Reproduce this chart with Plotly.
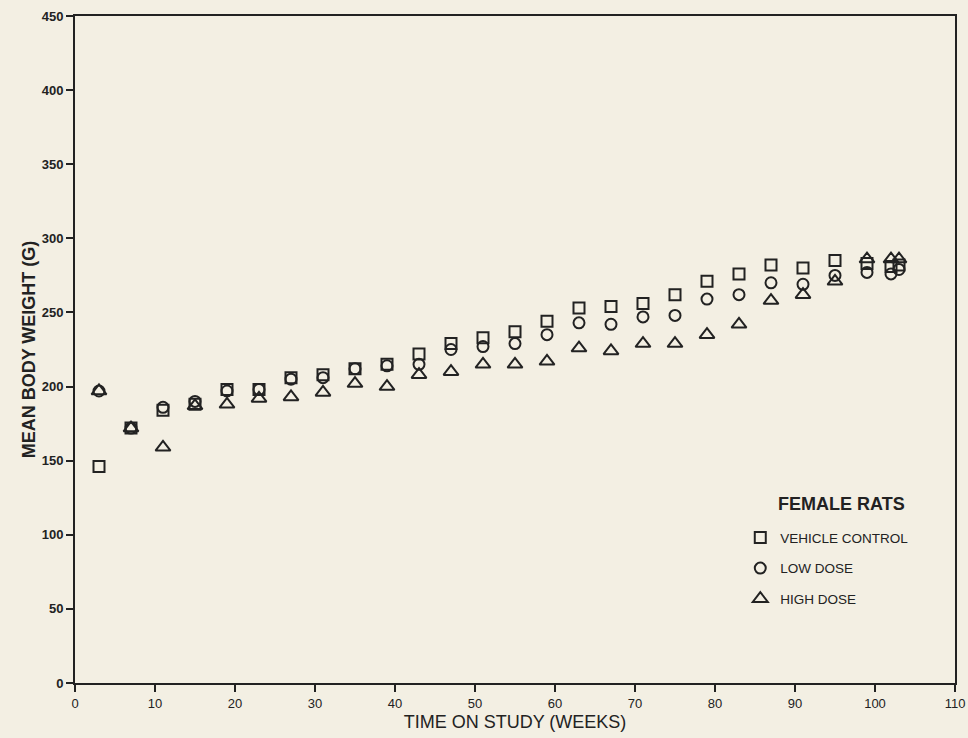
import plotly.graph_objects as go

weeks = [3, 7, 11, 15, 19, 23, 27, 31, 35, 39, 43, 47, 51, 55, 59, 63, 67, 71, 75, 79, 83, 87, 91, 95, 99, 102, 103]
vehicle_control = [146, 172, 184, 188, 198, 198, 206, 208, 212, 215, 222, 229, 233, 237, 244, 253, 254, 256, 262, 271, 276, 282, 280, 285, 283, 281, 282]
low_dose = [197, 172, 186, 190, 197, 198, 205, 206, 212, 214, 215, 225, 227, 229, 235, 243, 242, 247, 248, 259, 262, 270, 269, 275, 277, 276, 279]
high_dose = [197, 172, 159, 187, 188, 192, 193, 196, 202, 200, 208, 210, 215, 215, 217, 226, 224, 229, 229, 235, 242, 258, 262, 271, 286, 286, 286]

series = [
    ("VEHICLE CONTROL", vehicle_control, "square-open", 11),
    ("LOW DOSE", low_dose, "circle-open", 11),
    ("HIGH DOSE", high_dose, "triangle-up-open", 13),
]
legend_title = "FEMALE RATS"

x_ticks = list(range(0, 111, 10))
y_ticks = list(range(0, 451, 50))

INK = "#222222"
BG = "#f3efe3"
FONT = "Liberation Sans, Arial, sans-serif"

fig = go.Figure()
for i, (name, vals, sym, sz) in enumerate(series):
    fig.add_trace(go.Scatter(
        x=weeks, y=vals, mode="markers", name=name, legendgroup=f"g{i}",
        marker=dict(symbol=sym, size=sz, color=INK, line=dict(color=INK, width=2)),
    ))

fig.update_layout(
    width=968, height=738,
    margin=dict(l=75, r=13, t=16, b=55),
    paper_bgcolor=BG, plot_bgcolor=BG,
    showlegend=True,
    legend=dict(
        x=0.756, y=0.241, xanchor="left", yanchor="top",
        bgcolor="rgba(0,0,0,0)",
        traceorder="grouped", tracegroupgap=10,
        font=dict(family=FONT, size=13.5, color=INK),
        itemwidth=30,
    ),
    font=dict(family=FONT, color=INK),
    annotations=[dict(
        text=legend_title, xref="paper", yref="paper",
        x=0.8705, y=0.2685, xanchor="center", yanchor="middle",
        showarrow=False,
        font=dict(family=FONT, size=18, color=INK, weight="bold"),
    )],
)

fig.update_xaxes(
    range=[0, 110], tickvals=x_ticks, ticktext=[str(v) for v in x_ticks],
    showgrid=False, zeroline=False, automargin=False,
    showline=True, linecolor=INK, linewidth=2, mirror=True,
    ticks="outside", ticklen=7, tickwidth=1.5, tickcolor=INK,
    tickfont=dict(family=FONT, size=13, color=INK),
    title=dict(text="TIME ON STUDY (WEEKS)", standoff=6,
               font=dict(family=FONT, size=18, color=INK)),
)
fig.update_yaxes(
    range=[0, 450], tickvals=y_ticks, ticktext=[str(v) for v in y_ticks],
    showgrid=False, zeroline=False, automargin=False,
    showline=True, linecolor=INK, linewidth=2, mirror=True,
    ticks="outside", ticklen=7, tickwidth=1.5, tickcolor=INK,
    tickfont=dict(family=FONT, size=13, color=INK, weight="bold"),
    title=dict(text="MEAN BODY WEIGHT (G)", standoff=1,
               font=dict(family=FONT, size=18, color=INK, weight="bold")),
)

fig.write_html("out.html")
